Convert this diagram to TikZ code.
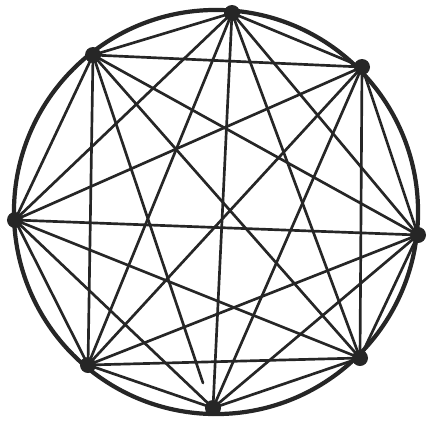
\documentclass[tikz,border=0pt]{standalone}
\usepackage{tikz}

\begin{document}
\begin{tikzpicture}[x=0.025cm, y=-0.025cm,
    dot/.style={circle, fill=black!85, inner sep=0pt, minimum size=0.4cm},
    chord/.style={black!85, line width=1.9pt, line cap=round}]
  \useasboundingbox (0,0) rectangle (428,430);
  % outer ring
  \draw[black!85, line width=3pt] (216,212) circle (5.05cm);
  % 8 points on the ring
  \foreach \name/\pos in {
      p1/{(232,13)},
      p2/{(93,55)},
      p3/{(362,67)},
      p4/{(15,220)},
      p5/{(418,235)},
      p6/{(88,365)},
      p7/{(360,358)},
      p8/{(213,408)}} {
    \node[dot] (\name) at \pos {};
  }
  % the one chord that stops short
  \coordinate (stub) at (203,383);
  \draw[chord] (p2.center) -- (stub);
  % every other pair joined
  \foreach \i in {1,...,7} {
    \pgfmathtruncatemacro{\next}{\i+1}
    \foreach \j in {\next,...,8} {
      \ifnum\i\j=28 \else
        \draw[chord] (p\i.center) -- (p\j.center);
      \fi
    }
  }
\end{tikzpicture}
\end{document}
